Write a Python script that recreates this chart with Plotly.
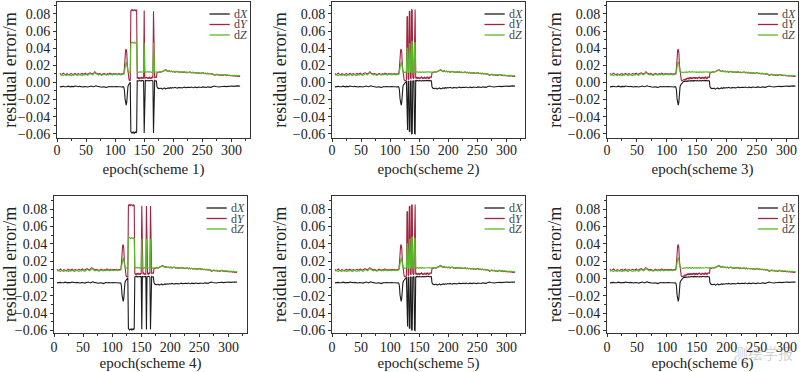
import plotly.graph_objects as go

# ---------------- data (residual errors in millimetres) ----------------
pre_epochs = list(range(5, 114, 2))      # 5 .. 113
seg_epochs = list(range(114, 175))       # 114 .. 174 (every epoch)
post_epochs = list(range(175, 316, 2))   # 175 .. 315

dx_pre = [-5.2, -4.8, -5.1, -4.6, -5.0, -5.3, -4.9, -4.4, -5.0, -5.2,
          -4.7, -5.1, -4.9, -4.3, -4.8, -5.2, -5.0, -4.6, -5.1, -4.9,
          -5.3, -4.8, -4.5, -5.0, -5.4, -4.9, -4.6, -4.2, -4.7, -5.1,
          -4.5, -4.0, -4.6, -5.0, -4.8, -5.3, -5.6, -5.1, -4.9, -5.5,
          -6.0, -5.2, -4.8, -5.1, -5.4, -4.9, -5.0, -4.7, -5.2, -4.9,
          -5.1, -4.8, -5.0, -5.3, -4.9]
dy_pre = [10.5, 9.2, 9.8, 10.8, 9.4, 9.0, 10.1, 9.6, 8.9, 9.9,
          10.3, 9.1, 9.7, 10.6, 9.3, 9.8, 10.2, 9.0, 9.6, 10.4,
          9.5, 9.9, 10.8, 9.2, 9.6, 10.1, 11.2, 10.4, 9.8, 10.9,
          12.3, 11.0, 10.2, 9.6, 10.5, 9.9, 9.1, 9.7, 10.6, 9.8,
          9.3, 10.2, 9.5, 10.8, 9.9, 9.4, 10.3, 9.7, 10.1, 9.6,
          9.9, 10.4, 9.5, 10.0, 9.8]
dz_pre = [8.2, 9.0, 8.5, 7.9, 9.2, 8.6, 8.0, 9.1, 8.4, 8.8,
          7.8, 8.9, 8.3, 9.4, 8.6, 7.9, 8.8, 9.3, 8.5, 8.1,
          9.0, 8.4, 9.6, 8.7, 8.2, 9.1, 10.3, 9.5, 8.8, 9.9,
          11.6, 10.2, 9.0, 8.6, 9.4, 8.9, 8.2, 8.8, 9.6, 9.1,
          8.5, 9.3, 8.7, 9.8, 9.0, 8.6, 9.5, 8.9, 9.2, 8.8,
          9.1, 9.6, 8.8, 9.3, 9.0]

dx_seg = [-5.0, -5.6, -9.0, -19.0, -25.5, -26.5, -23.0, -11.0, -5.0, -3.0,
          -1.8, -0.8, 0.2, 0.6, 1.0, 0.8, 1.4, 1.1, 1.6, 1.2,
          1.8, 1.3, 1.9, 1.5, 2.0, 1.6, 2.1, 1.7, 2.2, 1.8,
          2.0, 1.6, 2.3, 1.9, 2.2, 1.7, 2.1, 1.8, 2.4, 2.0,
          1.6, 2.2, 1.9, 2.3, 1.8, 2.1, 1.7, 2.2, 1.9, 2.4,
          2.0, 1.6, 2.1, 1.8, 2.3, 1.9, 2.2, 1.7, -5.2, -6.8,
          -7.2]
dy_seg = [9.8, 10.4, 17.0, 30.0, 37.5, 39.0, 35.0, 20.0, 11.0, 6.0,
          3.0, 2.0, 2.4, 1.8, 2.6, 3.5, 2.2, 4.2, 3.1, 5.0,
          4.0, 5.6, 3.8, 5.2, 4.4, 6.0, 4.6, 5.4, 3.9, 5.8,
          4.5, 6.2, 4.9, 5.5, 4.2, 6.1, 5.0, 4.4, 5.9, 4.8,
          6.3, 5.2, 4.6, 5.7, 4.3, 6.0, 5.1, 4.7, 5.8, 4.9,
          6.2, 5.3, 4.5, 5.9, 5.0, 6.4, 5.5, 6.0, 11.2, 12.0,
          11.6]
dz_seg = [9.2, 9.5, 13.0, 19.5, 23.0, 24.0, 21.5, 15.0, 12.5, 11.8,
          12.2, 11.6, 12.0, 11.4, 11.9, 12.3, 11.7, 12.1, 11.5, 12.4,
          11.8, 12.2, 11.6, 12.0, 12.5, 11.9, 12.3, 11.7, 12.1, 12.6,
          11.9, 12.2, 11.8, 12.4, 12.0, 11.6, 12.3, 11.9, 12.5, 12.0,
          11.7, 12.2, 12.6, 11.8, 12.1, 12.4, 11.9, 12.3, 12.0, 11.7,
          12.2, 12.5, 11.9, 12.3, 12.0, 12.4, 11.8, 12.2, 12.0, 12.4,
          12.1]

dx_post = [-6.9, -7.3, -6.6, -7.8, -7.2, -6.5, -7.6, -7.0, -6.4, -6.9,
           -6.2, -6.7, -6.0, -6.5, -5.8, -6.3, -6.6, -5.9, -6.2, -5.7,
           -6.4, -6.0, -5.5, -6.1, -5.8, -6.3, -5.6, -6.0, -5.4, -5.9,
           -6.2, -5.5, -5.8, -6.1, -5.4, -5.9, -5.6, -6.0, -5.3, -5.7,
           -5.5, -5.9, -5.2, -5.6, -5.4, -5.8, -5.1, -4.6, -4.3, -4.8,
           -5.2, -4.9, -5.4, -5.0, -4.7, -5.1, -4.8, -4.5, -4.9, -4.6,
           -4.3, -4.7, -4.4, -4.2, -4.6, -4.3, -4.0, -4.4, -4.1, -4.3, -4.2]
dy_post = [11.8, 12.4, 11.9, 12.6, 13.2, 14.2, 15.0, 13.6, 12.9, 13.8,
           12.5, 13.1, 12.2, 12.9, 11.8, 12.6, 13.0, 11.9, 12.4, 11.6,
           12.3, 11.7, 12.5, 11.4, 12.0, 11.3, 11.9, 12.2, 11.1, 11.7,
           11.0, 11.6, 10.8, 11.4, 10.6, 11.2, 10.4, 10.9, 11.5, 10.2,
           10.7, 10.0, 10.5, 9.8, 10.3, 9.6, 10.1, 9.3, 8.2, 8.9,
           9.4, 8.6, 9.1, 8.3, 8.8, 8.0, 8.6, 9.2, 8.1, 8.5,
           7.8, 8.3, 7.6, 8.0, 7.4, 7.9, 7.2, 7.7, 6.9, 7.4, 7.0]
dz_post = [12.1, 12.6, 12.0, 12.8, 13.0, 13.8, 14.3, 13.2, 12.7, 13.4,
           12.6, 12.9, 12.3, 13.1, 12.0, 12.5, 12.9, 12.1, 12.6, 11.8,
           12.2, 11.9, 12.7, 11.6, 12.1, 11.5, 12.2, 12.0, 11.3, 11.9,
           11.2, 11.7, 11.0, 11.6, 10.9, 11.3, 10.6, 11.1, 11.4, 10.5,
           10.9, 10.3, 10.8, 10.1, 10.5, 9.8, 10.3, 9.6, 8.8, 9.3,
           9.6, 8.9, 9.4, 8.7, 9.1, 8.5, 8.9, 9.5, 8.6, 8.9,
           8.3, 8.7, 8.1, 8.5, 8.0, 8.4, 7.8, 8.3, 7.6, 8.1, 7.9]

# outlier epochs per scheme (schemes 3 and 6 have none)
s1_epochs = [127, 128, 129, 130, 131, 132, 133, 134, 135, 136, 137, 150, 166]
s1_dx = [-57.5, -58.6, -59.2, -58.4, -59.0, -58.1, -59.3, -58.7, -58.0, -59.1, -57.8, -59.0, -59.2]
s1_dy = [83.5, 84.8, 84.0, 85.2, 83.8, 84.5, 85.0, 84.2, 83.6, 84.9, 84.1, 84.0, 83.2]
s1_dz = [45.5, 46.4, 47.0, 46.2, 45.8, 46.6, 47.1, 46.0, 45.7, 46.5, 46.1, 46.3, 46.0]

s2_epochs = [129, 130, 133, 134, 137, 138, 142, 143]
s2_dx = [-54.8, -55.5, -57.2, -57.8, -60.0, -59.6, -59.8, -60.2]
s2_dy = [76.5, 77.2, 82.6, 83.4, 85.0, 84.6, 84.8, 85.2]
s2_dz = [39.8, 40.4, 44.8, 45.5, 48.0, 47.6, 46.2, 46.5]

s4_epochs = [128, 129, 130, 131, 132, 133, 134, 135, 136, 137, 138, 151, 159, 166]
s4_dx = [-57.8, -58.9, -59.4, -58.6, -59.1, -58.3, -59.5, -58.8, -58.2, -59.0, -57.9, -58.8, -59.0, -58.6]
s4_dy = [83.8, 84.9, 84.2, 85.1, 83.9, 84.6, 85.0, 84.3, 83.7, 84.8, 84.0, 83.8, 83.5, 83.4]
s4_dz = [45.8, 46.6, 47.2, 46.4, 45.9, 46.8, 47.0, 46.2, 45.8, 46.6, 46.2, 46.0, 45.8, 45.7]

scheme_names = ["epoch(scheme 1)", "epoch(scheme 2)", "epoch(scheme 3)",
                "epoch(scheme 4)", "epoch(scheme 5)", "epoch(scheme 6)"]
series_names = ["dX", "dY", "dZ"]
legend_labels = ["d<i>X</i>", "d<i>Y</i>", "d<i>Z</i>"]
x_tick_values = [0, 50, 100, 150, 200, 250, 300]
y_tick_values = [-0.06, -0.04, -0.02, 0.00, 0.02, 0.04, 0.06, 0.08]

# ---------------- styling / layout ----------------
FONT = "Liberation Serif"
COLORS = ["#1c1c1c", "#a3243f", "#58b828"]
W, H = 800, 372

spikes = {
    1: (s1_epochs, s1_dx, s1_dy, s1_dz),
    2: (s2_epochs, s2_dx, s2_dy, s2_dz),
    3: None,
    4: (s4_epochs, s4_dx, s4_dy, s4_dz),
    5: (s2_epochs, s2_dx, s2_dy, s2_dz),
    6: None,
}

x_px = {1: (57, 250), 2: (332, 525), 3: (607, 798),
        4: (54, 247), 5: (332, 525), 6: (607, 798)}
top_row_px = (2, 138)
bot_row_px = (196, 333)
x_ranges = {1: [0, 332], 2: [0, 332], 3: [0, 319], 4: [0, 332], 5: [0, 332], 6: [0, 319]}
y_range_top = [-0.065, 0.094]
y_range_bot = [-0.063, 0.095]


def build(pre, seg, post, sp_ep, sp_val):
    s = list(seg)
    if sp_ep is not None:
        for e, v in zip(sp_ep, sp_val):
            s[e - seg_epochs[0]] = v
    xs = pre_epochs + seg_epochs + post_epochs
    ys = [v / 1000.0 for v in (pre + s + post)]
    return xs, ys


fig = go.Figure()
layout = dict(
    width=W, height=H, margin=dict(l=0, r=0, t=0, b=0),
    paper_bgcolor="white", plot_bgcolor="white", showlegend=False,
    font=dict(family=FONT, color="#222"),
)
annotations = []
shapes = []

for i in range(1, 7):
    sfx = "" if i == 1 else str(i)
    sp = spikes[i]
    pres = [dx_pre, dy_pre, dz_pre]
    segs = [dx_seg, dy_seg, dz_seg]
    posts = [dx_post, dy_post, dz_post]
    for k in range(3):
        if sp is None:
            xs, ys = build(pres[k], segs[k], posts[k], None, None)
        else:
            xs, ys = build(pres[k], segs[k], posts[k], sp[0], sp[k + 1])
        fig.add_trace(go.Scatter(
            x=xs, y=ys, mode="lines", name=series_names[k],
            line=dict(color=COLORS[k], width=1.1),
            xaxis="x" + sfx, yaxis="y" + sfx, hoverinfo="skip"))

    x0, x1 = x_px[i]
    top = i <= 3
    rowpx = top_row_px if top else bot_row_px
    ydom = [1 - rowpx[1] / H, 1 - rowpx[0] / H]
    yr = y_range_top if top else y_range_bot
    layout["xaxis" + sfx] = dict(
        domain=[x0 / W, x1 / W], range=x_ranges[i], anchor="y" + sfx,
        tickvals=x_tick_values, ticks="outside", ticklen=3, tickwidth=1,
        tickcolor="#333", showline=True, mirror=True, linecolor="#333",
        linewidth=1, showgrid=False, zeroline=False, automargin=False,
        ticklabelstandoff=-4 if top else -2,
        tickfont=dict(family=FONT, size=14, color="#222"),
        minor=dict(dtick=25, tick0=0, ticks="outside", ticklen=2, tickcolor="#333"),
        title=dict(text=scheme_names[i - 1], font=dict(family=FONT, size=15, color="#222"),
                   standoff=6 if top else 5),
    )
    layout["yaxis" + sfx] = dict(
        domain=ydom, range=yr, anchor="x" + sfx,
        tickvals=y_tick_values, tickformat=".2f", ticks="outside", ticklen=3,
        tickwidth=1, tickcolor="#333", showline=True, mirror=True,
        linecolor="#333", linewidth=1, showgrid=False, zeroline=False,
        automargin=False,
        tickfont=dict(family=FONT, size=14, color="#222"),
        minor=dict(dtick=0.01, tick0=0, ticks="outside", ticklen=2, tickcolor="#333"),
        title=dict(text="residual error/m", font=dict(family=FONT, size=18, color="#222"),
                   standoff=1),
    )

    # compact in-panel legend
    plot_h = rowpx[1] - rowpx[0]
    for k in range(3):
        yy = 1 - (12 + 10.5 * k) / plot_h
        shapes.append(dict(type="line", xref="x%s domain" % sfx, yref="y%s domain" % sfx,
                           x0=0.79, x1=0.895, y0=yy, y1=yy,
                           line=dict(color=COLORS[k], width=1.3)))
        annotations.append(dict(text=legend_labels[k], xref="x%s domain" % sfx,
                                yref="y%s domain" % sfx, x=0.905, y=yy,
                                xanchor="left", yanchor="middle", showarrow=False,
                                font=dict(family=FONT, size=12, color="#444")))

annotations.append(dict(text="测绘学报", xref="paper", yref="paper",
                        x=763 / W, y=1 - 352 / H, xanchor="center", yanchor="middle",
                        showarrow=False,
                        font=dict(family="Noto Sans CJK SC", size=15,
                                  color="rgba(120,120,120,0.35)")))

layout["annotations"] = annotations
layout["shapes"] = shapes
fig.update_layout(**layout)
fig.write_html("out.html", config={"displayModeBar": False},
               post_script="document.body.style.margin='0px';document.body.style.padding='0px';")
